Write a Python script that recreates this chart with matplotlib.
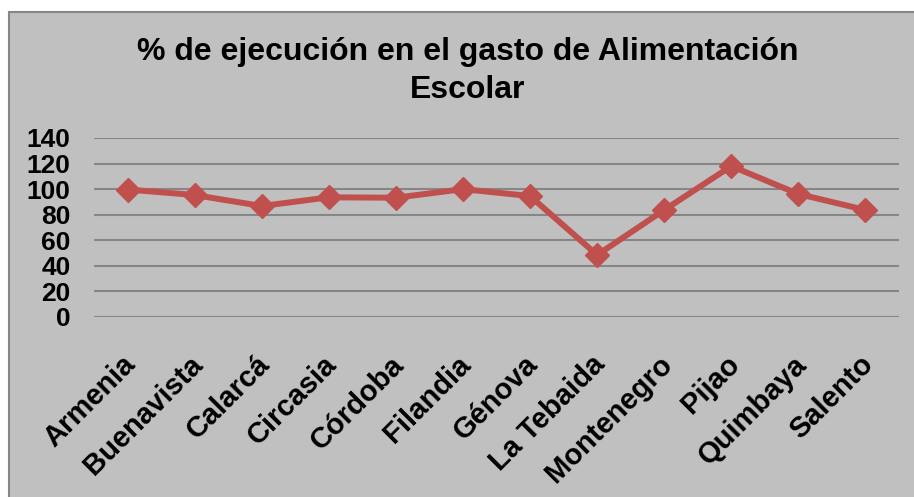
import matplotlib
matplotlib.use("Agg")
import matplotlib.pyplot as plt
from matplotlib.patches import Rectangle
from matplotlib.transforms import ScaledTranslation

# Datos: % de ejecución por municipio
municipios = ["Armenia", "Buenavista", "Calarcá", "Circasia", "Córdoba", "Filandia",
              "Génova", "La Tebaida", "Montenegro", "Pijao", "Quimbaya", "Salento"]
ejecucion = [99.7, 95.4, 86.8, 93.6, 93.3, 100.0, 94.6, 48.5, 83.7, 118.0, 96.2, 83.7]
ticks_y = [0, 20, 40, 60, 80, 100, 120, 140]

plt.rcParams['font.family'] = ['Liberation Sans', 'DejaVu Sans']

fig = plt.figure(figsize=(9.14, 4.97), dpi=100)
fig.patch.set_facecolor('white')

# fondo gris del área del gráfico con borde
W, H = 914, 497
fondo = Rectangle((9 / W, -0.05), 1.0, 1 - 12 / H + 0.05, transform=fig.transFigure,
                  facecolor='#c0c0c0', edgecolor='#868686', linewidth=1.5, zorder=-5)
fig.patches.append(fondo)

ax = fig.add_axes([94 / W, 1 - 317 / H, (899 - 94) / W, (317 - 138) / H])
ax.set_facecolor('none')

x = range(len(municipios))
ax.plot(x, ejecucion, color='#c0504d', linewidth=4.3, marker='D', markersize=12.5,
        markerfacecolor='#c0504d', markeredgecolor='#c0504d', zorder=3)

ax.set_xlim(-0.5, len(municipios) - 0.5)
ax.set_ylim(0, 140)
ax.set_yticks(ticks_y)
ax.grid(axis='y', color='#868686', linewidth=1.5)
ax.set_axisbelow(True)
for s in ax.spines.values():
    s.set_visible(False)

ax.tick_params(axis='y', length=0, pad=17, labelsize=19)
ax.tick_params(axis='x', length=0, pad=24, labelsize=21)
for lab in ax.get_yticklabels():
    lab.set_fontweight('bold')
ax.set_xticks(list(x))
ax.set_xticklabels(municipios, rotation=45, ha='right', rotation_mode='anchor',
                   fontweight='bold')
desplaza = ScaledTranslation(-6 / 100, 0, fig.dpi_scale_trans)
for lab in ax.get_xticklabels():
    lab.set_transform(lab.get_transform() + desplaza)

fig.text(468 / W, 1 - 71 / H, "% de ejecución en el gasto de Alimentación\nEscolar",
         ha='center', va='center', fontsize=23, fontweight='bold', linespacing=1.32)

fig.savefig("out.png", dpi=100)
